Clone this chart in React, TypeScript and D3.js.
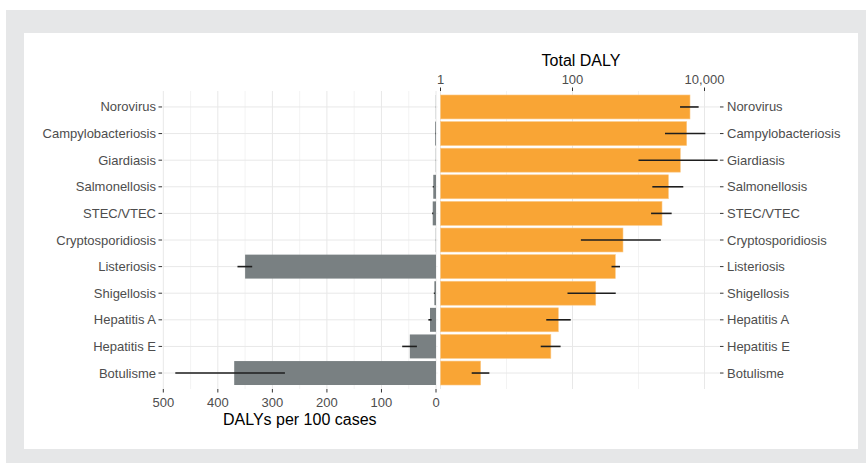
import React from "react";
import * as d3 from "d3";

const categories = [
  "Norovirus",
  "Campylobacteriosis",
  "Giardiasis",
  "Salmonellosis",
  "STEC/VTEC",
  "Cryptosporidiosis",
  "Listeriosis",
  "Shigellosis",
  "Hepatitis A",
  "Hepatitis E",
  "Botulisme",
];

// DALYs per 100 cases (left panel)
const perCase = [0.3, 1.5, 0.4, 5, 6, 0.4, 350, 3, 11, 48, 370];
const perCaseLow = [0.2, 1.2, 0.3, 4, 5, 0.3, 337, 2, 8, 35, 277];
const perCaseHigh = [0.4, 1.8, 0.5, 6, 7, 0.5, 364, 4, 14, 62, 478];

// Total DALY (right panel, log scale)
const total = [6030, 5370, 4300, 2840, 2270, 582, 445, 225, 61, 47, 4.06];
const totalLow = [4260, 2520, 1000, 1620, 1550, 134, 390, 84, 40, 33, 2.97];
const totalHigh = [8150, 10300, 15800, 4770, 3180, 2180, 525, 452, 94, 66, 5.5];

const leftTicks = [0, 100, 200, 300, 400, 500];
const leftMinor = [50, 150, 250, 350, 450];
const rightTicks = [1, 100, 10000];
const rightMinor = [10, 1000];

const FONT = "'Liberation Sans', Arial, sans-serif";
const ORANGE = "#f9a535";
const GRAY = "#798082";
const GRID = "#e8e8e8";
const GRID_MINOR = "#f0f0f0";
const TXT = "#4d4d4d";
const TICK = "#333333";

export default function App() {
  const top = 91;
  const bottom = 389;
  const lLeft = 162;
  const lRight = 437.5;
  const rLeft = 440;
  const rRight = 720;

  const y = d3.scalePoint<string>().domain(categories).range([top, bottom]).padding(0.6);
  const step = y.step();
  const bh = step * 0.9;

  const xl = d3.scaleLinear().domain([0, 500]).range([436, 163.3]);
  const xr = d3.scaleLog().domain([1, 10000]).range([440.5, 704.5]);

  const fmt = d3.format(",");

  return (
    <svg
      width={866}
      height={463}
      style={{ position: "absolute", left: 0, top: 0 }}
      fontFamily={FONT}
    >
      <rect x={0} y={0} width={866} height={463} fill="#ffffff" />
      <rect x={6} y={10} width={860} height={453} fill="#e6e7e8" />
      <rect x={24} y={33} width={834} height={416} fill="#ffffff" />

      {/* Left panel grid */}
      {leftMinor.map((v) => (
        <line key={"lm" + v} x1={xl(v)} x2={xl(v)} y1={top} y2={bottom} stroke={GRID_MINOR} strokeWidth={0.8} />
      ))}
      {leftTicks.map((v) => (
        <line key={"lg" + v} x1={xl(v)} x2={xl(v)} y1={top} y2={bottom} stroke={GRID} strokeWidth={1} />
      ))}
      {categories.map((c) => (
        <line key={"lh" + c} x1={lLeft} x2={lRight} y1={y(c)} y2={y(c)} stroke={GRID} strokeWidth={1} />
      ))}

      {/* Right panel grid */}
      {rightMinor.map((v) => (
        <line key={"rm" + v} x1={xr(v)} x2={xr(v)} y1={top} y2={bottom} stroke={GRID_MINOR} strokeWidth={0.8} />
      ))}
      {rightTicks.map((v) => (
        <line key={"rg" + v} x1={xr(v)} x2={xr(v)} y1={top} y2={bottom} stroke={GRID} strokeWidth={1} />
      ))}
      {categories.map((c) => (
        <line key={"rh" + c} x1={rLeft} x2={rRight} y1={y(c)} y2={y(c)} stroke={GRID} strokeWidth={1} />
      ))}

      {/* Left bars */}
      {categories.map((c, i) => (
        <rect
          key={"lb" + c}
          x={xl(perCase[i])}
          y={(y(c) as number) - bh / 2}
          width={xl(0) - xl(perCase[i])}
          height={bh}
          fill={GRAY}
        />
      ))}
      {categories.map((c, i) => (
        <line
          key={"le" + c}
          x1={xl(perCaseHigh[i])}
          x2={xl(perCaseLow[i])}
          y1={y(c)}
          y2={y(c)}
          stroke="#1e1e1e"
          strokeWidth={1.6}
        />
      ))}

      {/* Right bars */}
      {categories.map((c, i) => (
        <rect
          key={"rb" + c}
          x={xr(1)}
          y={(y(c) as number) - bh / 2}
          width={xr(total[i]) - xr(1)}
          height={bh}
          fill={ORANGE}
          stroke="#fbc987"
          strokeWidth={0.6}
        />
      ))}
      {categories.map((c, i) => (
        <line
          key={"re" + c}
          x1={xr(totalLow[i])}
          x2={xr(totalHigh[i])}
          y1={y(c)}
          y2={y(c)}
          stroke="#1e1e1e"
          strokeWidth={1.6}
        />
      ))}

      {/* Left y axis labels */}
      {categories.map((c) => (
        <g key={"ly" + c}>
          <line x1={158.5} x2={lLeft} y1={y(c)} y2={y(c)} stroke={TICK} strokeWidth={1} />
          <text x={156} y={(y(c) as number) + 4.5} textAnchor="end" fontSize={13} fill={TXT}>
            {c}
          </text>
        </g>
      ))}

      {/* Right y axis labels */}
      {categories.map((c) => (
        <g key={"ry" + c}>
          <line x1={rRight} x2={723.5} y1={y(c)} y2={y(c)} stroke={TICK} strokeWidth={1} />
          <text x={727} y={(y(c) as number) + 4.5} textAnchor="start" fontSize={13} fill={TXT}>
            {c}
          </text>
        </g>
      ))}

      {/* Bottom axis (left panel) */}
      {leftTicks.map((v) => (
        <g key={"bt" + v}>
          <line x1={xl(v)} x2={xl(v)} y1={bottom} y2={bottom + 3.5} stroke={TICK} strokeWidth={1} />
          <text x={xl(v)} y={406.5} textAnchor="middle" fontSize={13} fill={TXT}>
            {v}
          </text>
        </g>
      ))}
      <text x={(lLeft + lRight) / 2} y={425} textAnchor="middle" fontSize={16} fill="#000">
        DALYs per 100 cases
      </text>

      {/* Top axis (right panel) */}
      {rightTicks.map((v) => (
        <g key={"tt" + v}>
          <line x1={xr(v)} x2={xr(v)} y1={top - 3.5} y2={top} stroke={TICK} strokeWidth={1} />
          <text x={xr(v)} y={83.5} textAnchor="middle" fontSize={13} fill={TXT}>
            {fmt(v)}
          </text>
        </g>
      ))}
      <text x={(rLeft + rRight) / 2 + 1} y={66} textAnchor="middle" fontSize={16} fill="#000">
        Total DALY
      </text>
    </svg>
  );
}
